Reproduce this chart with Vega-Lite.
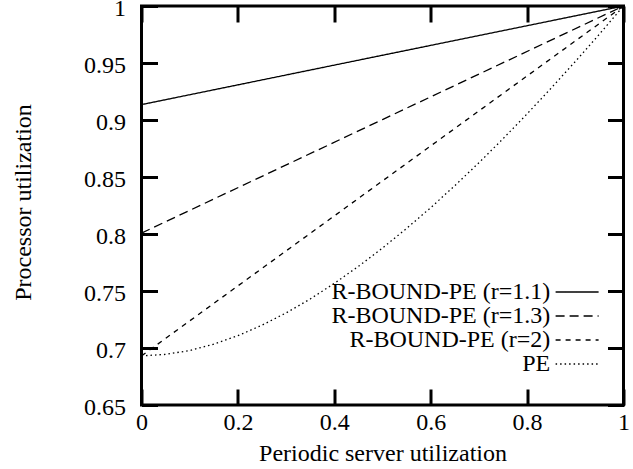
{
  "$schema": "https://vega.github.io/schema/vega-lite/v6.json",
  "width": 482,
  "height": 399,
  "autosize": {"type": "none"},
  "padding": {"left": 141.5, "top": 6, "right": 9.5, "bottom": 64},
  "background": "white",
  "config": {
    "view": {"stroke": "black", "strokeWidth": 3},
    "font": "Liberation Serif",
    "axis": {
      "domain": false,
      "grid": false,
      "ticks": true,
      "tickColor": "black",
      "tickWidth": 3,
      "tickSize": -16,
      "labelFont": "Liberation Serif",
      "labelFontSize": 24,
      "labelColor": "black",
      "labelFlush": false,
      "labelOverlap": false,
      "titleFont": "Liberation Serif",
      "titleFontSize": 24,
      "titleFontWeight": "normal",
      "titleColor": "black"
    },
    "legend": {
      "labelFont": "Liberation Serif",
      "labelFontSize": 24,
      "labelColor": "black"
    }
  },
  "data": {
    "values": [
      {"u": 0, "v": 0.9135, "s": "R-BOUND-PE (r=1.1)"},
      {"u": 0.5, "v": 0.9568, "s": "R-BOUND-PE (r=1.1)"},
      {"u": 1, "v": 1, "s": "R-BOUND-PE (r=1.1)"},
      {"u": 0, "v": 0.8008, "s": "R-BOUND-PE (r=1.3)"},
      {"u": 0.5, "v": 0.9004, "s": "R-BOUND-PE (r=1.3)"},
      {"u": 1, "v": 1, "s": "R-BOUND-PE (r=1.3)"},
      {"u": 0, "v": 0.6931, "s": "R-BOUND-PE (r=2)"},
      {"u": 0.5, "v": 0.8466, "s": "R-BOUND-PE (r=2)"},
      {"u": 1, "v": 1, "s": "R-BOUND-PE (r=2)"},
      {"u": 0, "v": 0.6931, "s": "PE"},
      {"u": 0.05, "v": 0.6944, "s": "PE"},
      {"u": 0.1, "v": 0.6978, "s": "PE"},
      {"u": 0.15, "v": 0.7034, "s": "PE"},
      {"u": 0.2, "v": 0.7108, "s": "PE"},
      {"u": 0.25, "v": 0.72, "s": "PE"},
      {"u": 0.3, "v": 0.7308, "s": "PE"},
      {"u": 0.35, "v": 0.743, "s": "PE"},
      {"u": 0.4, "v": 0.7567, "s": "PE"},
      {"u": 0.45, "v": 0.7716, "s": "PE"},
      {"u": 0.5, "v": 0.7877, "s": "PE"},
      {"u": 0.55, "v": 0.8049, "s": "PE"},
      {"u": 0.6, "v": 0.8231, "s": "PE"},
      {"u": 0.65, "v": 0.8424, "s": "PE"},
      {"u": 0.7, "v": 0.8625, "s": "PE"},
      {"u": 0.75, "v": 0.8835, "s": "PE"},
      {"u": 0.8, "v": 0.9054, "s": "PE"},
      {"u": 0.85, "v": 0.928, "s": "PE"},
      {"u": 0.9, "v": 0.9513, "s": "PE"},
      {"u": 0.95, "v": 0.9753, "s": "PE"},
      {"u": 1, "v": 1, "s": "PE"}
    ]
  },
  "layer": [
    {
      "mark": {"type": "line", "color": "black", "strokeWidth": 1.3, "clip": true},
      "encoding": {
        "x": {
          "field": "u", "type": "quantitative",
          "scale": {"domain": [0, 1], "nice": false},
          "axis": {
            "orient": "bottom",
            "values": [0, 0.2, 0.4, 0.6, 0.8, 1],
            "format": "~g",
            "labelFont": "Liberation Serif",
            "labelPadding": 21,
            "title": "Periodic server utilization",
            "titleFont": "Liberation Serif",
            "titlePadding": 7
          }
        },
        "y": {
          "field": "v", "type": "quantitative",
          "scale": {"domain": [0.65, 1], "nice": false, "zero": false},
          "axis": {
            "orient": "left",
            "values": [0.65, 0.7, 0.75, 0.8, 0.85, 0.9, 0.95, 1],
            "format": "~g",
            "labelFont": "Liberation Serif",
            "labelPadding": 32,
            "labelOffset": 2.5,
            "title": "Processor utilization",
            "titleFont": "Liberation Serif",
            "titleX": -118,
            "titleY": 196,
            "titleAlign": "center",
            "titleBaseline": "middle",
            "titleAngle": -90
          }
        },
        "strokeDash": {
          "field": "s", "type": "nominal",
          "scale": {
            "domain": ["R-BOUND-PE (r=1.1)", "R-BOUND-PE (r=1.3)", "R-BOUND-PE (r=2)", "PE"],
            "range": [[1, 0], [9, 5], [5, 5], [1.5, 3]]
          },
          "legend": {
            "orient": "none",
            "legendX": 423.6,
            "legendY": 274,
            "title": null,
            "padding": 0,
            "symbolType": "M-4,0H4",
            "symbolSize": 115.5625,
            "symbolStrokeColor": "black",
            "symbolFillColor": "transparent",
            "symbolStrokeWidth": 1.3,
            "labelFont": "Liberation Serif",
            "labelAlign": "right",
            "labelOffset": -38.85,
            "rowPadding": 0,
            "labelLimit": 400
          }
        }
      }
    },
    {
      "mark": {"type": "line", "opacity": 0},
      "encoding": {
        "x": {
          "field": "u", "type": "quantitative",
          "axis": {"orient": "top", "values": [0, 0.2, 0.4, 0.6, 0.8, 1], "labels": false, "title": null}
        },
        "y": {
          "field": "v", "type": "quantitative",
          "axis": {"orient": "right", "values": [0.65, 0.7, 0.75, 0.8, 0.85, 0.9, 0.95, 1], "labels": false, "title": null}
        },
        "detail": {"field": "s"}
      }
    }
  ],
  "resolve": {"axis": {"x": "independent", "y": "independent"}}
}
